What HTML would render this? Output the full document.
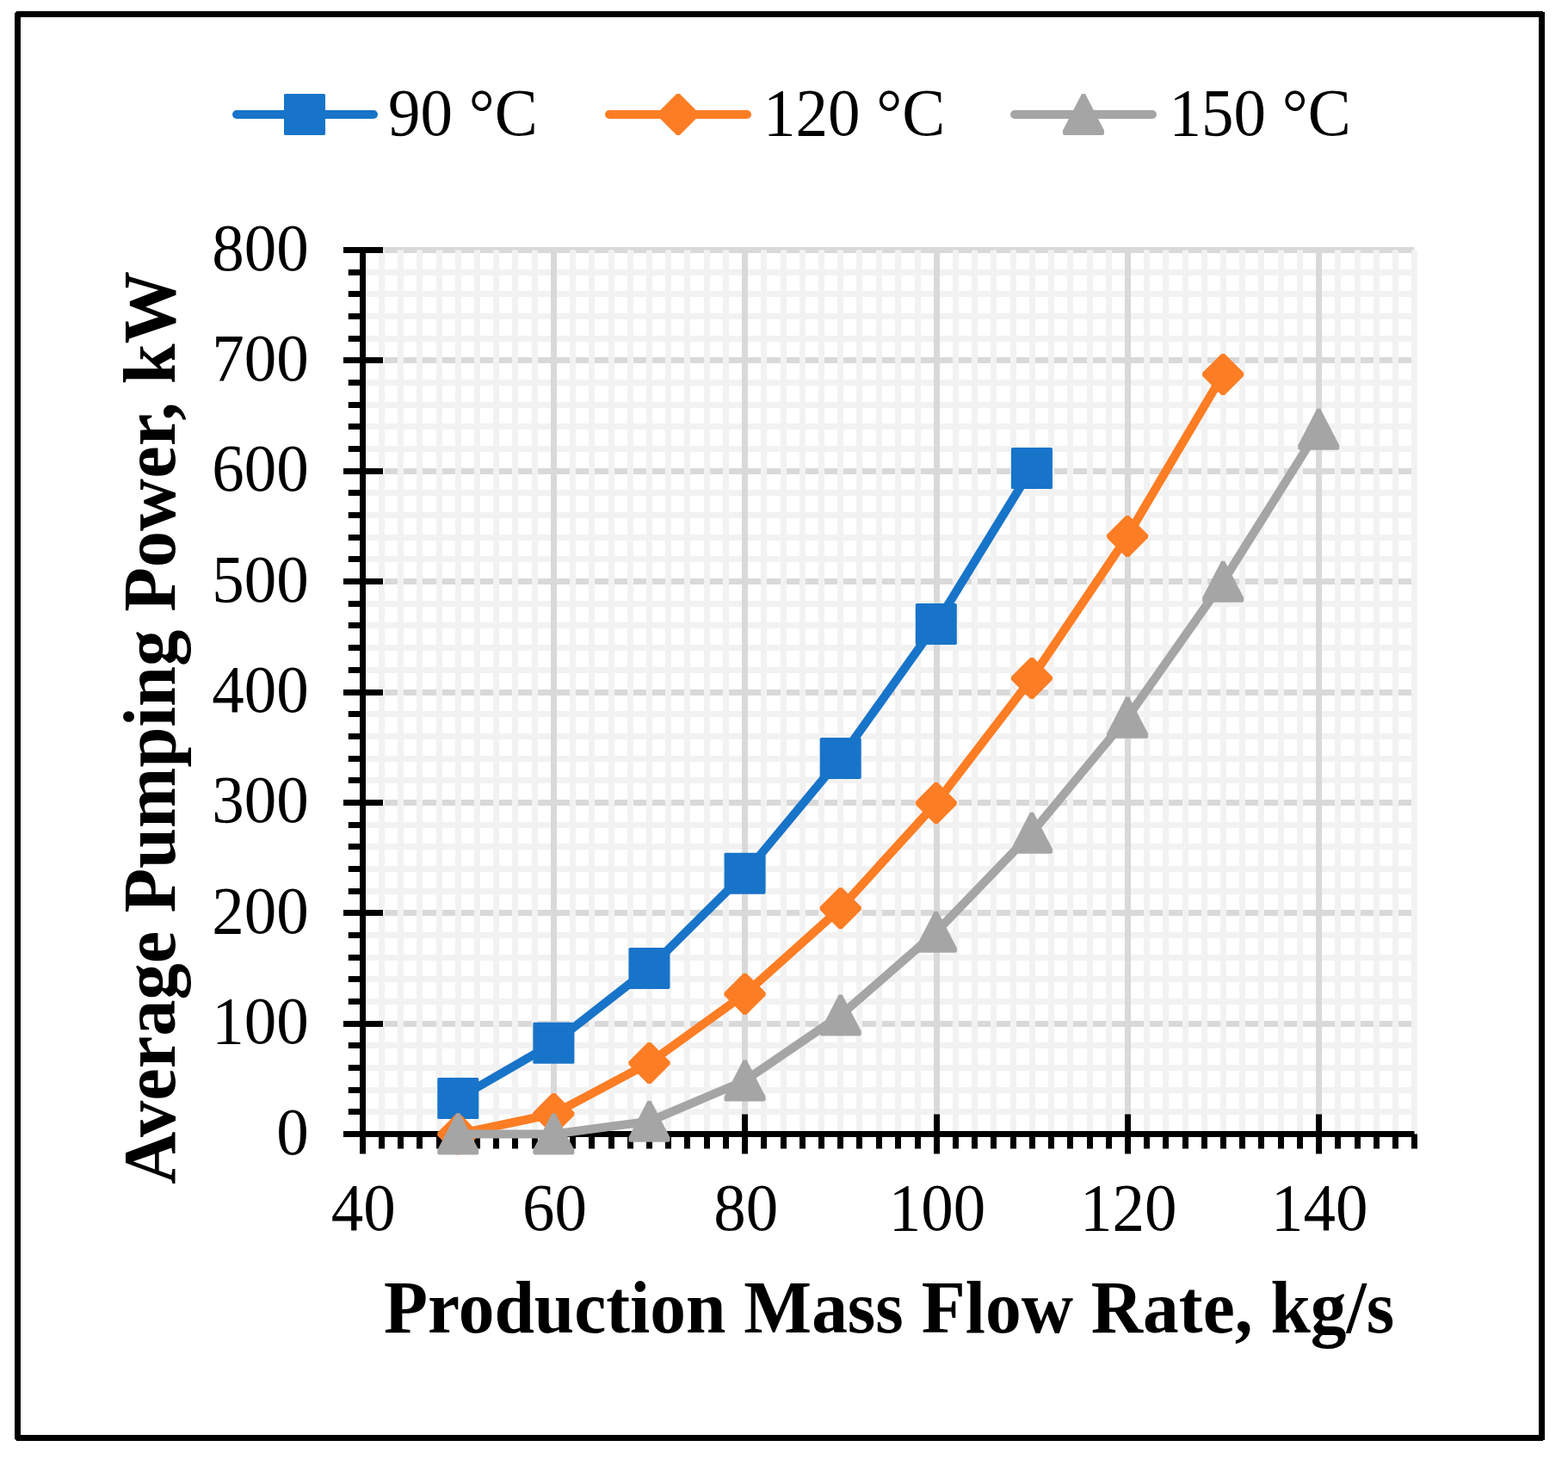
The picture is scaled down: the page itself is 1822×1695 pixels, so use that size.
<!DOCTYPE html>
<html><head><meta charset="utf-8"><title>Average Pumping Power vs Production Mass Flow Rate</title>
<style>html,body{margin:0;padding:0;background:#fff;}body{width:1822px;height:1695px;overflow:hidden;}svg{display:block;}</style>
</head><body>
<svg width="1822" height="1695" viewBox="0 0 1822 1695">
<rect x="0" y="0" width="1822" height="1695" fill="#ffffff"/>
<rect x="20.5" y="16.5" width="1771" height="1654" fill="none" stroke="#000" stroke-width="7"/>
<g fill="#fff" shape-rendering="crispEdges"><rect x="17" y="13" width="2" height="1"/><rect x="17" y="14" width="1" height="1"/><rect x="1793" y="13" width="2" height="1"/><rect x="1793" y="1673" width="2" height="1"/><rect x="17" y="1673" width="2" height="1"/><rect x="17" y="1672" width="1" height="1"/></g>
<line x1="421.5" y1="1291.50" x2="1643.5" y2="1291.50" stroke="#F2F2F2" stroke-width="7"/>
<line x1="421.5" y1="1266.50" x2="1643.5" y2="1266.50" stroke="#F2F2F2" stroke-width="7"/>
<line x1="421.5" y1="1240.50" x2="1643.5" y2="1240.50" stroke="#F2F2F2" stroke-width="7"/>
<line x1="421.5" y1="1214.50" x2="1643.5" y2="1214.50" stroke="#F2F2F2" stroke-width="7"/>
<line x1="421.5" y1="1163.50" x2="1643.5" y2="1163.50" stroke="#F2F2F2" stroke-width="7"/>
<line x1="421.5" y1="1137.50" x2="1643.5" y2="1137.50" stroke="#F2F2F2" stroke-width="7"/>
<line x1="421.5" y1="1112.50" x2="1643.5" y2="1112.50" stroke="#F2F2F2" stroke-width="7"/>
<line x1="421.5" y1="1086.50" x2="1643.5" y2="1086.50" stroke="#F2F2F2" stroke-width="7"/>
<line x1="421.5" y1="1035.50" x2="1643.5" y2="1035.50" stroke="#F2F2F2" stroke-width="7"/>
<line x1="421.5" y1="1009.50" x2="1643.5" y2="1009.50" stroke="#F2F2F2" stroke-width="7"/>
<line x1="421.5" y1="983.50" x2="1643.5" y2="983.50" stroke="#F2F2F2" stroke-width="7"/>
<line x1="421.5" y1="958.50" x2="1643.5" y2="958.50" stroke="#F2F2F2" stroke-width="7"/>
<line x1="421.5" y1="906.50" x2="1643.5" y2="906.50" stroke="#F2F2F2" stroke-width="7"/>
<line x1="421.5" y1="881.50" x2="1643.5" y2="881.50" stroke="#F2F2F2" stroke-width="7"/>
<line x1="421.5" y1="855.50" x2="1643.5" y2="855.50" stroke="#F2F2F2" stroke-width="7"/>
<line x1="421.5" y1="829.50" x2="1643.5" y2="829.50" stroke="#F2F2F2" stroke-width="7"/>
<line x1="421.5" y1="778.50" x2="1643.5" y2="778.50" stroke="#F2F2F2" stroke-width="7"/>
<line x1="421.5" y1="752.50" x2="1643.5" y2="752.50" stroke="#F2F2F2" stroke-width="7"/>
<line x1="421.5" y1="726.50" x2="1643.5" y2="726.50" stroke="#F2F2F2" stroke-width="7"/>
<line x1="421.5" y1="701.50" x2="1643.5" y2="701.50" stroke="#F2F2F2" stroke-width="7"/>
<line x1="421.5" y1="649.50" x2="1643.5" y2="649.50" stroke="#F2F2F2" stroke-width="7"/>
<line x1="421.5" y1="624.50" x2="1643.5" y2="624.50" stroke="#F2F2F2" stroke-width="7"/>
<line x1="421.5" y1="598.50" x2="1643.5" y2="598.50" stroke="#F2F2F2" stroke-width="7"/>
<line x1="421.5" y1="572.50" x2="1643.5" y2="572.50" stroke="#F2F2F2" stroke-width="7"/>
<line x1="421.5" y1="521.50" x2="1643.5" y2="521.50" stroke="#F2F2F2" stroke-width="7"/>
<line x1="421.5" y1="495.50" x2="1643.5" y2="495.50" stroke="#F2F2F2" stroke-width="7"/>
<line x1="421.5" y1="470.50" x2="1643.5" y2="470.50" stroke="#F2F2F2" stroke-width="7"/>
<line x1="421.5" y1="444.50" x2="1643.5" y2="444.50" stroke="#F2F2F2" stroke-width="7"/>
<line x1="421.5" y1="393.50" x2="1643.5" y2="393.50" stroke="#F2F2F2" stroke-width="7"/>
<line x1="421.5" y1="367.50" x2="1643.5" y2="367.50" stroke="#F2F2F2" stroke-width="7"/>
<line x1="421.5" y1="341.50" x2="1643.5" y2="341.50" stroke="#F2F2F2" stroke-width="7"/>
<line x1="421.5" y1="316.50" x2="1643.5" y2="316.50" stroke="#F2F2F2" stroke-width="7"/>
<line x1="421.5" y1="1317.50" x2="1643.5" y2="1317.50" stroke="#D9D9D9" stroke-width="7"/>
<line x1="421.5" y1="1189.50" x2="1643.5" y2="1189.50" stroke="#D9D9D9" stroke-width="7"/>
<line x1="421.5" y1="1060.50" x2="1643.5" y2="1060.50" stroke="#D9D9D9" stroke-width="7"/>
<line x1="421.5" y1="932.50" x2="1643.5" y2="932.50" stroke="#D9D9D9" stroke-width="7"/>
<line x1="421.5" y1="804.50" x2="1643.5" y2="804.50" stroke="#D9D9D9" stroke-width="7"/>
<line x1="421.5" y1="675.50" x2="1643.5" y2="675.50" stroke="#D9D9D9" stroke-width="7"/>
<line x1="421.5" y1="547.50" x2="1643.5" y2="547.50" stroke="#D9D9D9" stroke-width="7"/>
<line x1="421.5" y1="418.50" x2="1643.5" y2="418.50" stroke="#D9D9D9" stroke-width="7"/>
<line x1="421.5" y1="290.50" x2="1643.5" y2="290.50" stroke="#D9D9D9" stroke-width="7"/>
<line x1="443.50" y1="290.5" x2="443.50" y2="1317.5" stroke="#F2F2F2" stroke-width="7"/>
<line x1="465.50" y1="290.5" x2="465.50" y2="1317.5" stroke="#F2F2F2" stroke-width="7"/>
<line x1="487.50" y1="290.5" x2="487.50" y2="1317.5" stroke="#F2F2F2" stroke-width="7"/>
<line x1="510.50" y1="290.5" x2="510.50" y2="1317.5" stroke="#F2F2F2" stroke-width="7"/>
<line x1="532.50" y1="290.5" x2="532.50" y2="1317.5" stroke="#F2F2F2" stroke-width="7"/>
<line x1="554.50" y1="290.5" x2="554.50" y2="1317.5" stroke="#F2F2F2" stroke-width="7"/>
<line x1="576.50" y1="290.5" x2="576.50" y2="1317.5" stroke="#F2F2F2" stroke-width="7"/>
<line x1="598.50" y1="290.5" x2="598.50" y2="1317.5" stroke="#F2F2F2" stroke-width="7"/>
<line x1="621.50" y1="290.5" x2="621.50" y2="1317.5" stroke="#F2F2F2" stroke-width="7"/>
<line x1="665.50" y1="290.5" x2="665.50" y2="1317.5" stroke="#F2F2F2" stroke-width="7"/>
<line x1="687.50" y1="290.5" x2="687.50" y2="1317.5" stroke="#F2F2F2" stroke-width="7"/>
<line x1="710.50" y1="290.5" x2="710.50" y2="1317.5" stroke="#F2F2F2" stroke-width="7"/>
<line x1="732.50" y1="290.5" x2="732.50" y2="1317.5" stroke="#F2F2F2" stroke-width="7"/>
<line x1="754.50" y1="290.5" x2="754.50" y2="1317.5" stroke="#F2F2F2" stroke-width="7"/>
<line x1="776.50" y1="290.5" x2="776.50" y2="1317.5" stroke="#F2F2F2" stroke-width="7"/>
<line x1="798.50" y1="290.5" x2="798.50" y2="1317.5" stroke="#F2F2F2" stroke-width="7"/>
<line x1="821.50" y1="290.5" x2="821.50" y2="1317.5" stroke="#F2F2F2" stroke-width="7"/>
<line x1="843.50" y1="290.5" x2="843.50" y2="1317.5" stroke="#F2F2F2" stroke-width="7"/>
<line x1="887.50" y1="290.5" x2="887.50" y2="1317.5" stroke="#F2F2F2" stroke-width="7"/>
<line x1="910.50" y1="290.5" x2="910.50" y2="1317.5" stroke="#F2F2F2" stroke-width="7"/>
<line x1="932.50" y1="290.5" x2="932.50" y2="1317.5" stroke="#F2F2F2" stroke-width="7"/>
<line x1="954.50" y1="290.5" x2="954.50" y2="1317.5" stroke="#F2F2F2" stroke-width="7"/>
<line x1="976.50" y1="290.5" x2="976.50" y2="1317.5" stroke="#F2F2F2" stroke-width="7"/>
<line x1="998.50" y1="290.5" x2="998.50" y2="1317.5" stroke="#F2F2F2" stroke-width="7"/>
<line x1="1021.50" y1="290.5" x2="1021.50" y2="1317.5" stroke="#F2F2F2" stroke-width="7"/>
<line x1="1043.50" y1="290.5" x2="1043.50" y2="1317.5" stroke="#F2F2F2" stroke-width="7"/>
<line x1="1066.50" y1="290.5" x2="1066.50" y2="1317.5" stroke="#F2F2F2" stroke-width="7"/>
<line x1="1110.50" y1="290.5" x2="1110.50" y2="1317.5" stroke="#F2F2F2" stroke-width="7"/>
<line x1="1132.50" y1="290.5" x2="1132.50" y2="1317.5" stroke="#F2F2F2" stroke-width="7"/>
<line x1="1154.50" y1="290.5" x2="1154.50" y2="1317.5" stroke="#F2F2F2" stroke-width="7"/>
<line x1="1177.50" y1="290.5" x2="1177.50" y2="1317.5" stroke="#F2F2F2" stroke-width="7"/>
<line x1="1199.50" y1="290.5" x2="1199.50" y2="1317.5" stroke="#F2F2F2" stroke-width="7"/>
<line x1="1221.50" y1="290.5" x2="1221.50" y2="1317.5" stroke="#F2F2F2" stroke-width="7"/>
<line x1="1243.50" y1="290.5" x2="1243.50" y2="1317.5" stroke="#F2F2F2" stroke-width="7"/>
<line x1="1266.50" y1="290.5" x2="1266.50" y2="1317.5" stroke="#F2F2F2" stroke-width="7"/>
<line x1="1288.50" y1="290.5" x2="1288.50" y2="1317.5" stroke="#F2F2F2" stroke-width="7"/>
<line x1="1332.50" y1="290.5" x2="1332.50" y2="1317.5" stroke="#F2F2F2" stroke-width="7"/>
<line x1="1354.50" y1="290.5" x2="1354.50" y2="1317.5" stroke="#F2F2F2" stroke-width="7"/>
<line x1="1377.50" y1="290.5" x2="1377.50" y2="1317.5" stroke="#F2F2F2" stroke-width="7"/>
<line x1="1399.50" y1="290.5" x2="1399.50" y2="1317.5" stroke="#F2F2F2" stroke-width="7"/>
<line x1="1421.50" y1="290.5" x2="1421.50" y2="1317.5" stroke="#F2F2F2" stroke-width="7"/>
<line x1="1443.50" y1="290.5" x2="1443.50" y2="1317.5" stroke="#F2F2F2" stroke-width="7"/>
<line x1="1465.50" y1="290.5" x2="1465.50" y2="1317.5" stroke="#F2F2F2" stroke-width="7"/>
<line x1="1488.50" y1="290.5" x2="1488.50" y2="1317.5" stroke="#F2F2F2" stroke-width="7"/>
<line x1="1510.50" y1="290.5" x2="1510.50" y2="1317.5" stroke="#F2F2F2" stroke-width="7"/>
<line x1="1554.50" y1="290.5" x2="1554.50" y2="1317.5" stroke="#F2F2F2" stroke-width="7"/>
<line x1="1577.50" y1="290.5" x2="1577.50" y2="1317.5" stroke="#F2F2F2" stroke-width="7"/>
<line x1="1599.50" y1="290.5" x2="1599.50" y2="1317.5" stroke="#F2F2F2" stroke-width="7"/>
<line x1="1621.50" y1="290.5" x2="1621.50" y2="1317.5" stroke="#F2F2F2" stroke-width="7"/>
<line x1="1643.50" y1="290.5" x2="1643.50" y2="1317.5" stroke="#F2F2F2" stroke-width="7"/>
<line x1="421.50" y1="290.5" x2="421.50" y2="1317.5" stroke="#D9D9D9" stroke-width="7"/>
<line x1="643.50" y1="290.5" x2="643.50" y2="1317.5" stroke="#D9D9D9" stroke-width="7"/>
<line x1="865.50" y1="290.5" x2="865.50" y2="1317.5" stroke="#D9D9D9" stroke-width="7"/>
<line x1="1088.50" y1="290.5" x2="1088.50" y2="1317.5" stroke="#D9D9D9" stroke-width="7"/>
<line x1="1310.50" y1="290.5" x2="1310.50" y2="1317.5" stroke="#D9D9D9" stroke-width="7"/>
<line x1="1532.50" y1="290.5" x2="1532.50" y2="1317.5" stroke="#D9D9D9" stroke-width="7"/>
<line x1="421.5" y1="290.5" x2="421.5" y2="1317.5" stroke="#000" stroke-width="7"/>
<line x1="421.5" y1="1317.5" x2="1643.5" y2="1317.5" stroke="#000" stroke-width="7"/>
<line x1="404.75" y1="1317.50" x2="421.5" y2="1317.50" stroke="#000" stroke-width="7"/>
<line x1="404.75" y1="1291.50" x2="421.5" y2="1291.50" stroke="#000" stroke-width="7"/>
<line x1="404.75" y1="1266.50" x2="421.5" y2="1266.50" stroke="#000" stroke-width="7"/>
<line x1="404.75" y1="1240.50" x2="421.5" y2="1240.50" stroke="#000" stroke-width="7"/>
<line x1="404.75" y1="1214.50" x2="421.5" y2="1214.50" stroke="#000" stroke-width="7"/>
<line x1="404.75" y1="1189.50" x2="421.5" y2="1189.50" stroke="#000" stroke-width="7"/>
<line x1="404.75" y1="1163.50" x2="421.5" y2="1163.50" stroke="#000" stroke-width="7"/>
<line x1="404.75" y1="1137.50" x2="421.5" y2="1137.50" stroke="#000" stroke-width="7"/>
<line x1="404.75" y1="1112.50" x2="421.5" y2="1112.50" stroke="#000" stroke-width="7"/>
<line x1="404.75" y1="1086.50" x2="421.5" y2="1086.50" stroke="#000" stroke-width="7"/>
<line x1="404.75" y1="1060.50" x2="421.5" y2="1060.50" stroke="#000" stroke-width="7"/>
<line x1="404.75" y1="1035.50" x2="421.5" y2="1035.50" stroke="#000" stroke-width="7"/>
<line x1="404.75" y1="1009.50" x2="421.5" y2="1009.50" stroke="#000" stroke-width="7"/>
<line x1="404.75" y1="983.50" x2="421.5" y2="983.50" stroke="#000" stroke-width="7"/>
<line x1="404.75" y1="958.50" x2="421.5" y2="958.50" stroke="#000" stroke-width="7"/>
<line x1="404.75" y1="932.50" x2="421.5" y2="932.50" stroke="#000" stroke-width="7"/>
<line x1="404.75" y1="906.50" x2="421.5" y2="906.50" stroke="#000" stroke-width="7"/>
<line x1="404.75" y1="881.50" x2="421.5" y2="881.50" stroke="#000" stroke-width="7"/>
<line x1="404.75" y1="855.50" x2="421.5" y2="855.50" stroke="#000" stroke-width="7"/>
<line x1="404.75" y1="829.50" x2="421.5" y2="829.50" stroke="#000" stroke-width="7"/>
<line x1="404.75" y1="804.50" x2="421.5" y2="804.50" stroke="#000" stroke-width="7"/>
<line x1="404.75" y1="778.50" x2="421.5" y2="778.50" stroke="#000" stroke-width="7"/>
<line x1="404.75" y1="752.50" x2="421.5" y2="752.50" stroke="#000" stroke-width="7"/>
<line x1="404.75" y1="726.50" x2="421.5" y2="726.50" stroke="#000" stroke-width="7"/>
<line x1="404.75" y1="701.50" x2="421.5" y2="701.50" stroke="#000" stroke-width="7"/>
<line x1="404.75" y1="675.50" x2="421.5" y2="675.50" stroke="#000" stroke-width="7"/>
<line x1="404.75" y1="649.50" x2="421.5" y2="649.50" stroke="#000" stroke-width="7"/>
<line x1="404.75" y1="624.50" x2="421.5" y2="624.50" stroke="#000" stroke-width="7"/>
<line x1="404.75" y1="598.50" x2="421.5" y2="598.50" stroke="#000" stroke-width="7"/>
<line x1="404.75" y1="572.50" x2="421.5" y2="572.50" stroke="#000" stroke-width="7"/>
<line x1="404.75" y1="547.50" x2="421.5" y2="547.50" stroke="#000" stroke-width="7"/>
<line x1="404.75" y1="521.50" x2="421.5" y2="521.50" stroke="#000" stroke-width="7"/>
<line x1="404.75" y1="495.50" x2="421.5" y2="495.50" stroke="#000" stroke-width="7"/>
<line x1="404.75" y1="470.50" x2="421.5" y2="470.50" stroke="#000" stroke-width="7"/>
<line x1="404.75" y1="444.50" x2="421.5" y2="444.50" stroke="#000" stroke-width="7"/>
<line x1="404.75" y1="418.50" x2="421.5" y2="418.50" stroke="#000" stroke-width="7"/>
<line x1="404.75" y1="393.50" x2="421.5" y2="393.50" stroke="#000" stroke-width="7"/>
<line x1="404.75" y1="367.50" x2="421.5" y2="367.50" stroke="#000" stroke-width="7"/>
<line x1="404.75" y1="341.50" x2="421.5" y2="341.50" stroke="#000" stroke-width="7"/>
<line x1="404.75" y1="316.50" x2="421.5" y2="316.50" stroke="#000" stroke-width="7"/>
<line x1="404.75" y1="290.50" x2="421.5" y2="290.50" stroke="#000" stroke-width="7"/>
<line x1="399" y1="1317.50" x2="445" y2="1317.50" stroke="#000" stroke-width="7"/>
<line x1="399" y1="1189.50" x2="445" y2="1189.50" stroke="#000" stroke-width="7"/>
<line x1="399" y1="1060.50" x2="445" y2="1060.50" stroke="#000" stroke-width="7"/>
<line x1="399" y1="932.50" x2="445" y2="932.50" stroke="#000" stroke-width="7"/>
<line x1="399" y1="804.50" x2="445" y2="804.50" stroke="#000" stroke-width="7"/>
<line x1="399" y1="675.50" x2="445" y2="675.50" stroke="#000" stroke-width="7"/>
<line x1="399" y1="547.50" x2="445" y2="547.50" stroke="#000" stroke-width="7"/>
<line x1="399" y1="418.50" x2="445" y2="418.50" stroke="#000" stroke-width="7"/>
<line x1="399" y1="290.50" x2="445" y2="290.50" stroke="#000" stroke-width="7"/>
<line x1="421.50" y1="1317.5" x2="421.50" y2="1334.5" stroke="#000" stroke-width="7"/>
<line x1="443.50" y1="1317.5" x2="443.50" y2="1334.5" stroke="#000" stroke-width="7"/>
<line x1="465.50" y1="1317.5" x2="465.50" y2="1334.5" stroke="#000" stroke-width="7"/>
<line x1="487.50" y1="1317.5" x2="487.50" y2="1334.5" stroke="#000" stroke-width="7"/>
<line x1="510.50" y1="1317.5" x2="510.50" y2="1334.5" stroke="#000" stroke-width="7"/>
<line x1="532.50" y1="1317.5" x2="532.50" y2="1334.5" stroke="#000" stroke-width="7"/>
<line x1="554.50" y1="1317.5" x2="554.50" y2="1334.5" stroke="#000" stroke-width="7"/>
<line x1="576.50" y1="1317.5" x2="576.50" y2="1334.5" stroke="#000" stroke-width="7"/>
<line x1="598.50" y1="1317.5" x2="598.50" y2="1334.5" stroke="#000" stroke-width="7"/>
<line x1="621.50" y1="1317.5" x2="621.50" y2="1334.5" stroke="#000" stroke-width="7"/>
<line x1="643.50" y1="1317.5" x2="643.50" y2="1334.5" stroke="#000" stroke-width="7"/>
<line x1="665.50" y1="1317.5" x2="665.50" y2="1334.5" stroke="#000" stroke-width="7"/>
<line x1="687.50" y1="1317.5" x2="687.50" y2="1334.5" stroke="#000" stroke-width="7"/>
<line x1="710.50" y1="1317.5" x2="710.50" y2="1334.5" stroke="#000" stroke-width="7"/>
<line x1="732.50" y1="1317.5" x2="732.50" y2="1334.5" stroke="#000" stroke-width="7"/>
<line x1="754.50" y1="1317.5" x2="754.50" y2="1334.5" stroke="#000" stroke-width="7"/>
<line x1="776.50" y1="1317.5" x2="776.50" y2="1334.5" stroke="#000" stroke-width="7"/>
<line x1="798.50" y1="1317.5" x2="798.50" y2="1334.5" stroke="#000" stroke-width="7"/>
<line x1="821.50" y1="1317.5" x2="821.50" y2="1334.5" stroke="#000" stroke-width="7"/>
<line x1="843.50" y1="1317.5" x2="843.50" y2="1334.5" stroke="#000" stroke-width="7"/>
<line x1="865.50" y1="1317.5" x2="865.50" y2="1334.5" stroke="#000" stroke-width="7"/>
<line x1="887.50" y1="1317.5" x2="887.50" y2="1334.5" stroke="#000" stroke-width="7"/>
<line x1="910.50" y1="1317.5" x2="910.50" y2="1334.5" stroke="#000" stroke-width="7"/>
<line x1="932.50" y1="1317.5" x2="932.50" y2="1334.5" stroke="#000" stroke-width="7"/>
<line x1="954.50" y1="1317.5" x2="954.50" y2="1334.5" stroke="#000" stroke-width="7"/>
<line x1="976.50" y1="1317.5" x2="976.50" y2="1334.5" stroke="#000" stroke-width="7"/>
<line x1="998.50" y1="1317.5" x2="998.50" y2="1334.5" stroke="#000" stroke-width="7"/>
<line x1="1021.50" y1="1317.5" x2="1021.50" y2="1334.5" stroke="#000" stroke-width="7"/>
<line x1="1043.50" y1="1317.5" x2="1043.50" y2="1334.5" stroke="#000" stroke-width="7"/>
<line x1="1066.50" y1="1317.5" x2="1066.50" y2="1334.5" stroke="#000" stroke-width="7"/>
<line x1="1088.50" y1="1317.5" x2="1088.50" y2="1334.5" stroke="#000" stroke-width="7"/>
<line x1="1110.50" y1="1317.5" x2="1110.50" y2="1334.5" stroke="#000" stroke-width="7"/>
<line x1="1132.50" y1="1317.5" x2="1132.50" y2="1334.5" stroke="#000" stroke-width="7"/>
<line x1="1154.50" y1="1317.5" x2="1154.50" y2="1334.5" stroke="#000" stroke-width="7"/>
<line x1="1177.50" y1="1317.5" x2="1177.50" y2="1334.5" stroke="#000" stroke-width="7"/>
<line x1="1199.50" y1="1317.5" x2="1199.50" y2="1334.5" stroke="#000" stroke-width="7"/>
<line x1="1221.50" y1="1317.5" x2="1221.50" y2="1334.5" stroke="#000" stroke-width="7"/>
<line x1="1243.50" y1="1317.5" x2="1243.50" y2="1334.5" stroke="#000" stroke-width="7"/>
<line x1="1266.50" y1="1317.5" x2="1266.50" y2="1334.5" stroke="#000" stroke-width="7"/>
<line x1="1288.50" y1="1317.5" x2="1288.50" y2="1334.5" stroke="#000" stroke-width="7"/>
<line x1="1310.50" y1="1317.5" x2="1310.50" y2="1334.5" stroke="#000" stroke-width="7"/>
<line x1="1332.50" y1="1317.5" x2="1332.50" y2="1334.5" stroke="#000" stroke-width="7"/>
<line x1="1354.50" y1="1317.5" x2="1354.50" y2="1334.5" stroke="#000" stroke-width="7"/>
<line x1="1377.50" y1="1317.5" x2="1377.50" y2="1334.5" stroke="#000" stroke-width="7"/>
<line x1="1399.50" y1="1317.5" x2="1399.50" y2="1334.5" stroke="#000" stroke-width="7"/>
<line x1="1421.50" y1="1317.5" x2="1421.50" y2="1334.5" stroke="#000" stroke-width="7"/>
<line x1="1443.50" y1="1317.5" x2="1443.50" y2="1334.5" stroke="#000" stroke-width="7"/>
<line x1="1465.50" y1="1317.5" x2="1465.50" y2="1334.5" stroke="#000" stroke-width="7"/>
<line x1="1488.50" y1="1317.5" x2="1488.50" y2="1334.5" stroke="#000" stroke-width="7"/>
<line x1="1510.50" y1="1317.5" x2="1510.50" y2="1334.5" stroke="#000" stroke-width="7"/>
<line x1="1532.50" y1="1317.5" x2="1532.50" y2="1334.5" stroke="#000" stroke-width="7"/>
<line x1="1554.50" y1="1317.5" x2="1554.50" y2="1334.5" stroke="#000" stroke-width="7"/>
<line x1="1577.50" y1="1317.5" x2="1577.50" y2="1334.5" stroke="#000" stroke-width="7"/>
<line x1="1599.50" y1="1317.5" x2="1599.50" y2="1334.5" stroke="#000" stroke-width="7"/>
<line x1="1621.50" y1="1317.5" x2="1621.50" y2="1334.5" stroke="#000" stroke-width="7"/>
<line x1="1643.50" y1="1317.5" x2="1643.50" y2="1334.5" stroke="#000" stroke-width="7"/>
<line x1="421.50" y1="1294.5" x2="421.50" y2="1340.5" stroke="#000" stroke-width="7"/>
<line x1="643.50" y1="1294.5" x2="643.50" y2="1340.5" stroke="#000" stroke-width="7"/>
<line x1="865.50" y1="1294.5" x2="865.50" y2="1340.5" stroke="#000" stroke-width="7"/>
<line x1="1088.50" y1="1294.5" x2="1088.50" y2="1340.5" stroke="#000" stroke-width="7"/>
<line x1="1310.50" y1="1294.5" x2="1310.50" y2="1340.5" stroke="#000" stroke-width="7"/>
<line x1="1532.50" y1="1294.5" x2="1532.50" y2="1340.5" stroke="#000" stroke-width="7"/>
<polyline points="532.26,1276.03 643.37,1211.85 754.48,1124.94 865.59,1014.66 976.71,880.90 1087.82,725.05 1198.93,544.04" fill="none" stroke="#1874C9" stroke-width="10" stroke-linejoin="round" stroke-linecap="round"/>
<rect x="508.26" y="1252.03" width="48.00" height="48.00" rx="1.6" fill="#1874C9"/>
<rect x="619.37" y="1187.85" width="48.00" height="48.00" rx="1.6" fill="#1874C9"/>
<rect x="730.48" y="1100.94" width="48.00" height="48.00" rx="1.6" fill="#1874C9"/>
<rect x="841.59" y="990.66" width="48.00" height="48.00" rx="1.6" fill="#1874C9"/>
<rect x="952.71" y="856.90" width="48.00" height="48.00" rx="1.6" fill="#1874C9"/>
<rect x="1063.82" y="701.05" width="48.00" height="48.00" rx="1.6" fill="#1874C9"/>
<rect x="1174.93" y="520.04" width="48.00" height="48.00" rx="1.6" fill="#1874C9"/>
<polyline points="532.26,1317.50 643.37,1294.01 754.48,1234.95 865.59,1154.72 976.71,1055.23 1087.82,933.02 1198.93,787.95 1310.04,622.99 1421.15,434.92" fill="none" stroke="#FC7D24" stroke-width="10" stroke-linejoin="round" stroke-linecap="round"/>
<polygon points="530.46,1293.50 534.06,1293.50 556.26,1315.70 556.26,1319.30 534.06,1341.50 530.46,1341.50 508.26,1319.30 508.26,1315.70" fill="#FC7D24"/>
<polygon points="641.57,1270.01 645.17,1270.01 667.37,1292.21 667.37,1295.81 645.17,1318.01 641.57,1318.01 619.37,1295.81 619.37,1292.21" fill="#FC7D24"/>
<polygon points="752.68,1210.95 756.28,1210.95 778.48,1233.15 778.48,1236.75 756.28,1258.95 752.68,1258.95 730.48,1236.75 730.48,1233.15" fill="#FC7D24"/>
<polygon points="863.79,1130.72 867.39,1130.72 889.59,1152.92 889.59,1156.52 867.39,1178.72 863.79,1178.72 841.59,1156.52 841.59,1152.92" fill="#FC7D24"/>
<polygon points="974.91,1031.23 978.51,1031.23 1000.71,1053.43 1000.71,1057.03 978.51,1079.23 974.91,1079.23 952.71,1057.03 952.71,1053.43" fill="#FC7D24"/>
<polygon points="1086.02,909.02 1089.62,909.02 1111.82,931.22 1111.82,934.82 1089.62,957.02 1086.02,957.02 1063.82,934.82 1063.82,931.22" fill="#FC7D24"/>
<polygon points="1197.13,763.95 1200.73,763.95 1222.93,786.15 1222.93,789.75 1200.73,811.95 1197.13,811.95 1174.93,789.75 1174.93,786.15" fill="#FC7D24"/>
<polygon points="1308.24,598.99 1311.84,598.99 1334.04,621.19 1334.04,624.79 1311.84,646.99 1308.24,646.99 1286.04,624.79 1286.04,621.19" fill="#FC7D24"/>
<polygon points="1419.35,410.92 1422.95,410.92 1445.15,433.12 1445.15,436.72 1422.95,458.92 1419.35,458.92 1397.15,436.72 1397.15,433.12" fill="#FC7D24"/>
<polyline points="532.26,1317.50 643.37,1317.50 754.48,1302.74 865.59,1255.49 976.71,1179.50 1087.82,1082.83 1198.93,967.68 1310.04,833.65 1421.15,675.75 1532.26,498.72" fill="none" stroke="#A5A5A5" stroke-width="10" stroke-linejoin="round" stroke-linecap="round"/>
<polygon points="530.26,1293.50 534.26,1293.50 556.26,1336.00 556.26,1340.00 554.76,1341.50 509.76,1341.50 508.26,1340.00 508.26,1336.00" fill="#A5A5A5"/>
<polygon points="641.37,1293.50 645.37,1293.50 667.37,1336.00 667.37,1340.00 665.87,1341.50 620.87,1341.50 619.37,1340.00 619.37,1336.00" fill="#A5A5A5"/>
<polygon points="752.48,1278.74 756.48,1278.74 778.48,1321.24 778.48,1325.24 776.98,1326.74 731.98,1326.74 730.48,1325.24 730.48,1321.24" fill="#A5A5A5"/>
<polygon points="863.59,1231.49 867.59,1231.49 889.59,1273.99 889.59,1277.99 888.09,1279.49 843.09,1279.49 841.59,1277.99 841.59,1273.99" fill="#A5A5A5"/>
<polygon points="974.71,1155.50 978.71,1155.50 1000.71,1198.00 1000.71,1202.00 999.21,1203.50 954.21,1203.50 952.71,1202.00 952.71,1198.00" fill="#A5A5A5"/>
<polygon points="1085.82,1058.83 1089.82,1058.83 1111.82,1101.33 1111.82,1105.33 1110.32,1106.83 1065.32,1106.83 1063.82,1105.33 1063.82,1101.33" fill="#A5A5A5"/>
<polygon points="1196.93,943.68 1200.93,943.68 1222.93,986.18 1222.93,990.18 1221.43,991.68 1176.43,991.68 1174.93,990.18 1174.93,986.18" fill="#A5A5A5"/>
<polygon points="1308.04,809.65 1312.04,809.65 1334.04,852.15 1334.04,856.15 1332.54,857.65 1287.54,857.65 1286.04,856.15 1286.04,852.15" fill="#A5A5A5"/>
<polygon points="1419.15,651.75 1423.15,651.75 1445.15,694.25 1445.15,698.25 1443.65,699.75 1398.65,699.75 1397.15,698.25 1397.15,694.25" fill="#A5A5A5"/>
<polygon points="1530.26,474.72 1534.26,474.72 1556.26,517.22 1556.26,521.22 1554.76,522.72 1509.76,522.72 1508.26,521.22 1508.26,517.22" fill="#A5A5A5"/>
<line x1="275" y1="133" x2="434" y2="133" stroke="#1874C9" stroke-width="10" stroke-linecap="round"/>
<rect x="330.00" y="109.00" width="48.00" height="48.00" rx="1.6" fill="#1874C9"/>
<line x1="708" y1="133" x2="868" y2="133" stroke="#FC7D24" stroke-width="10" stroke-linecap="round"/>
<polygon points="786.20,109.00 789.80,109.00 812.00,131.20 812.00,134.80 789.80,157.00 786.20,157.00 764.00,134.80 764.00,131.20" fill="#FC7D24"/>
<line x1="1179" y1="133" x2="1339" y2="133" stroke="#A5A5A5" stroke-width="10" stroke-linecap="round"/>
<polygon points="1257.00,109.00 1261.00,109.00 1283.00,151.50 1283.00,155.50 1281.50,157.00 1236.50,157.00 1235.00,155.50 1235.00,151.50" fill="#A5A5A5"/>
<text transform="translate(451,156.5) scale(1,1.037)" x="0" y="0" text-anchor="start" font-family="'Liberation Serif', 'Times New Roman', serif" font-size="75" font-weight="normal" fill="#000">90 °C</text>
<text transform="translate(887,156.5) scale(1,1.037)" x="0" y="0" text-anchor="start" font-family="'Liberation Serif', 'Times New Roman', serif" font-size="75" font-weight="normal" fill="#000">120 °C</text>
<text transform="translate(1358.5,156.5) scale(1,1.037)" x="0" y="0" text-anchor="start" font-family="'Liberation Serif', 'Times New Roman', serif" font-size="75" font-weight="normal" fill="#000">150 °C</text>
<text transform="translate(358.7,1340.5) scale(1,1.037)" x="0" y="0" text-anchor="end" font-family="'Liberation Serif', 'Times New Roman', serif" font-size="75" font-weight="normal" fill="#000">0</text>
<text transform="translate(358.7,1212.12) scale(1,1.037)" x="0" y="0" text-anchor="end" font-family="'Liberation Serif', 'Times New Roman', serif" font-size="75" font-weight="normal" fill="#000">100</text>
<text transform="translate(358.7,1083.75) scale(1,1.037)" x="0" y="0" text-anchor="end" font-family="'Liberation Serif', 'Times New Roman', serif" font-size="75" font-weight="normal" fill="#000">200</text>
<text transform="translate(358.7,955.38) scale(1,1.037)" x="0" y="0" text-anchor="end" font-family="'Liberation Serif', 'Times New Roman', serif" font-size="75" font-weight="normal" fill="#000">300</text>
<text transform="translate(358.7,827.0) scale(1,1.037)" x="0" y="0" text-anchor="end" font-family="'Liberation Serif', 'Times New Roman', serif" font-size="75" font-weight="normal" fill="#000">400</text>
<text transform="translate(358.7,698.62) scale(1,1.037)" x="0" y="0" text-anchor="end" font-family="'Liberation Serif', 'Times New Roman', serif" font-size="75" font-weight="normal" fill="#000">500</text>
<text transform="translate(358.7,570.25) scale(1,1.037)" x="0" y="0" text-anchor="end" font-family="'Liberation Serif', 'Times New Roman', serif" font-size="75" font-weight="normal" fill="#000">600</text>
<text transform="translate(358.7,441.88) scale(1,1.037)" x="0" y="0" text-anchor="end" font-family="'Liberation Serif', 'Times New Roman', serif" font-size="75" font-weight="normal" fill="#000">700</text>
<text transform="translate(358.7,313.5) scale(1,1.037)" x="0" y="0" text-anchor="end" font-family="'Liberation Serif', 'Times New Roman', serif" font-size="75" font-weight="normal" fill="#000">800</text>
<text transform="translate(422.25,1429.0) scale(1,1.037)" x="0" y="0" text-anchor="middle" font-family="'Liberation Serif', 'Times New Roman', serif" font-size="75" font-weight="normal" fill="#000">40</text>
<text transform="translate(644.47,1429.0) scale(1,1.037)" x="0" y="0" text-anchor="middle" font-family="'Liberation Serif', 'Times New Roman', serif" font-size="75" font-weight="normal" fill="#000">60</text>
<text transform="translate(866.69,1429.0) scale(1,1.037)" x="0" y="0" text-anchor="middle" font-family="'Liberation Serif', 'Times New Roman', serif" font-size="75" font-weight="normal" fill="#000">80</text>
<text transform="translate(1088.92,1429.0) scale(1,1.037)" x="0" y="0" text-anchor="middle" font-family="'Liberation Serif', 'Times New Roman', serif" font-size="75" font-weight="normal" fill="#000">100</text>
<text transform="translate(1311.14,1429.0) scale(1,1.037)" x="0" y="0" text-anchor="middle" font-family="'Liberation Serif', 'Times New Roman', serif" font-size="75" font-weight="normal" fill="#000">120</text>
<text transform="translate(1533.36,1429.0) scale(1,1.037)" x="0" y="0" text-anchor="middle" font-family="'Liberation Serif', 'Times New Roman', serif" font-size="75" font-weight="normal" fill="#000">140</text>
<text transform="translate(446.1,1548) scale(1,1.036)" x="0" y="0" text-anchor="start" font-family="'Liberation Serif', 'Times New Roman', serif" font-size="83.5" font-weight="bold" fill="#000">Production Mass Flow Rate, kg/s</text>
<text transform="translate(203,1375.7) rotate(-90) scale(1,1.024)" x="0" y="0" font-family="'Liberation Serif', 'Times New Roman', serif" font-size="84.5" font-weight="bold" fill="#000">Average Pumping Power, kW</text>
</svg>
</body></html>
